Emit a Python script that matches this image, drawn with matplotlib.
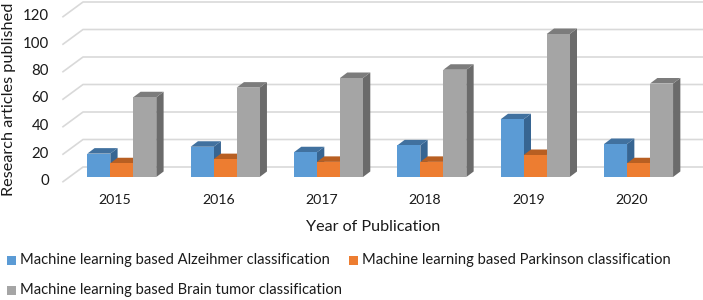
"""3D-look clustered bars: ML research articles per year."""
import matplotlib
matplotlib.use("Agg")
import matplotlib.pyplot as plt
from matplotlib.patches import Rectangle

years = ["2015", "2016", "2017", "2018", "2019", "2020"]
alzheimer = [17, 22, 18, 23, 42, 24]
parkinson = [10, 13, 11, 11, 16, 10]
brain_tumor = [58, 65, 72, 78, 104, 68]
y_ticks = [0, 20, 40, 60, 80, 100, 120]
legend_labels = ["Machine learning based Alzeihmer classification",
                 "Machine learning based Parkinson classification",
                 "Machine learning based Brain tumor classification"]

W, H = 703, 300
PX_X = 103.35   # px per category
PX_Y = 1.375    # px per value unit
X0, Y0 = 121.8, 177.0   # px of first category centre / bar baseline


def px(x):
    return (x - X0) / PX_X


def py(y):
    return (Y0 - y) / PX_Y


plt.rcParams["font.family"] = ["Lato", "DejaVu Sans"]
fig = plt.figure(figsize=(W / 100, H / 100), dpi=100)
ax = fig.add_axes([0, 0, 1, 1])
ax.set_xlim(px(0), px(W))
ax.set_ylim(py(H), py(0))
ax.axis("off")

# walls: gridlines run from the front edge back, then across
for v in y_ticks:
    back = py(167) + v
    front = py(181.7) + v
    ax.plot([px(63), px(83), px(W)], [front, back, back], color="#D9D9D9", lw=1.2, zorder=1)
    ax.text(px(49), py(181) + v, str(v), ha="right", va="center", fontsize=10.8, color="#1a1a1a")

bar_w = 23 / PX_X
dx, dy = 7.3 / PX_X, 5.5 / PX_Y
series = [
    (alzheimer, -1, "#5B9BD5", "#41719F", "#376592"),
    (parkinson, 0, "#ED7D31", "#B85F22", "#AE5A21"),
    (brain_tumor, 1, "#A5A5A5", "#7C7C7C", "#6B6B6B"),
]
# draw back-to-front so that each side face is covered by the next bar
for i in range(len(years)):
    for vals, off, col, top, side in series:
        left = i + off * bar_w - bar_w / 2
        v = vals[i]
        ax.fill([left + bar_w, left + bar_w + dx, left + bar_w + dx, left + bar_w],
                [0, dy, v + dy, v], color=side, lw=0, zorder=2)
        ax.fill([left, left + dx, left + bar_w + dx, left + bar_w],
                [v, v + dy, v + dy, v], color=top, lw=0, zorder=2)
        ax.bar(left, v, width=bar_w, align="edge", color=col, lw=0, zorder=2)
    ax.text(i + px(115), py(200), years[i], ha="center", va="center", fontsize=10.2, color="#1a1a1a")

ax.text(px(9), py(99), "Research articles published", rotation=90, ha="center", va="center",
        fontsize=11.7, color="#1a1a1a")
ax.text(px(373.5), py(227), "Year of Publication", ha="center", va="center", fontsize=11.6, color="#1a1a1a")

# legend
entries = [(7, 260, 0, "#5B9BD5"), (349, 260, 1, "#ED7D31"), (7, 290, 2, "#A5A5A5")]
for x, y, k, col in entries:
    ax.add_patch(Rectangle((px(x), py(y + 4.5)), 9 / PX_X, 9 / PX_Y, color=col, lw=0))
    ax.text(px(x + 13), py(y), legend_labels[k], ha="left", va="center", fontsize=10.6, color="#1a1a1a")

fig.savefig("out.png", dpi=100)
